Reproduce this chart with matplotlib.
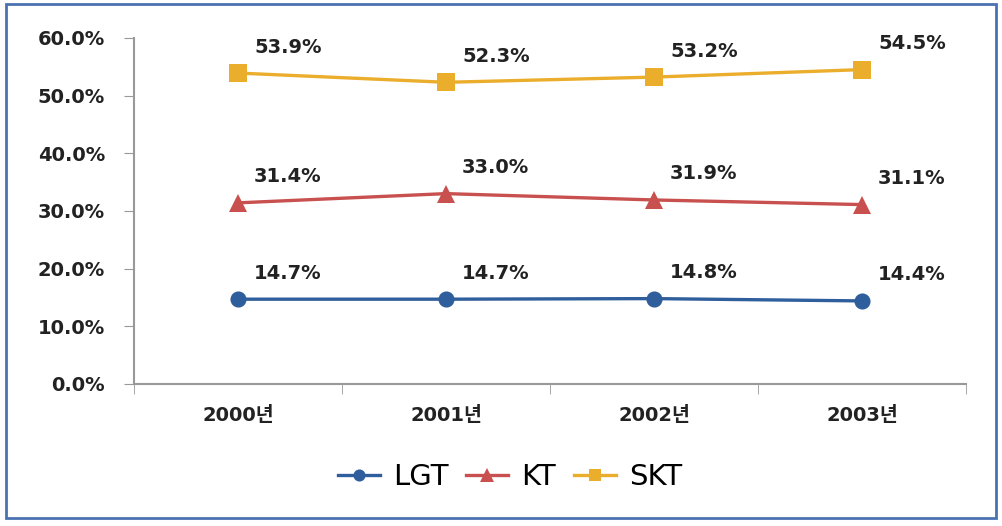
import matplotlib
matplotlib.use("Agg")
import matplotlib.pyplot as plt
from matplotlib.patches import Rectangle

plt.rcParams['font.family'] = ['DejaVu Sans', 'Noto Sans CJK KR']

# data
years = ["2000년", "2001년", "2002년", "2003년"]
lgt = [14.7, 14.7, 14.8, 14.4]
kt = [31.4, 33.0, 31.9, 31.1]
skt = [53.9, 52.3, 53.2, 54.5]

series = [
    ("LGT", lgt, "#2E5E9C", "o", 8),
    ("KT", kt, "#C8504F", "^", 9),
    ("SKT", skt, "#EBAD2C", "s", 8.5),
]

fig = plt.figure(figsize=(10.03, 5.26), dpi=100)
ax = fig.add_axes([0.1336, 0.270, 0.8295, 0.658])

x = list(range(len(years)))
for name, vals, col, mk, ms in series:
    ax.plot(x, vals, color=col, lw=2.4, marker=mk, ms=ms * 1.45, label=name,
            markeredgewidth=0)
    for xi, v in zip(x, vals):
        ax.annotate(f"{v:.1f}%", (xi, v), xytext=(16, 26), textcoords="offset pixels",
                    ha="left", va="center", fontsize=14, fontweight="bold", color="#222222")

ax.set_xlim(-0.5, 3.5)
ax.set_ylim(0, 60)
ax.set_yticks(range(0, 61, 10))
ax.set_yticklabels([f"{v:.1f}%" for v in range(0, 61, 10)], fontsize=14,
                   fontweight="bold", color="#222222")
ax.set_xticks(x)
ax.set_xticklabels(years, fontsize=14, fontweight="bold", color="#222222")
ax.tick_params(axis="x", length=0, pad=16)
ax.tick_params(axis="y", length=7, color="#999999", pad=14)
# category boundary ticks
ax.set_xticks([-0.5, 0.5, 1.5, 2.5, 3.5], minor=True)
ax.tick_params(axis="x", which="minor", length=7, color="#999999", direction="out")

for s in ["top", "right"]:
    ax.spines[s].set_visible(False)
for s in ["left", "bottom"]:
    ax.spines[s].set_color("#999999")
    ax.spines[s].set_linewidth(1.5)

fig.legend(*ax.get_legend_handles_labels(), loc="center",
           bbox_to_anchor=(510 / 1003, 1 - 477 / 526), ncol=3, frameon=False,
           fontsize=21, handlelength=1.45, handletextpad=0.45, columnspacing=0.6,
           markerscale=0.75)

fig.patches.append(Rectangle((0.006, 0.015), 0.987, 0.978, transform=fig.transFigure,
                             fill=False, edgecolor="#4A72B0", lw=2))

fig.savefig("out.png", dpi=100)
